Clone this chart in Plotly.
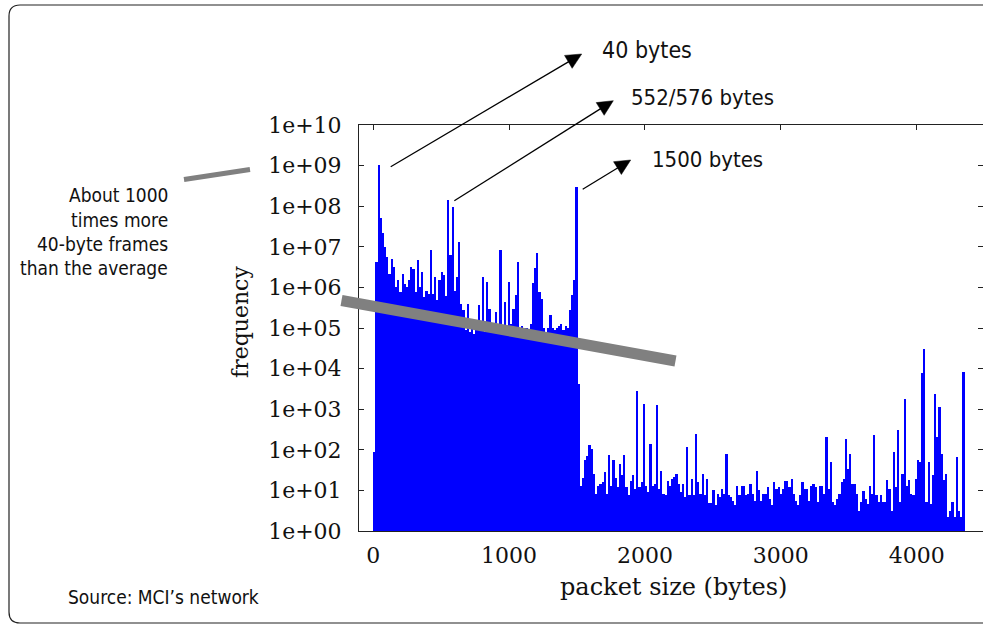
import plotly.graph_objects as go

# ---------------- data ----------------
BIN_WIDTH = 16  # bytes per histogram bin
# log10 of the frame count in each 16-byte bin, starting at 0 bytes
log10_frequency = [
    1.94, 6.63, 9.01, 7.70, 7.34, 7.00, 6.75, 6.34, 6.71, 6.50,
    6.00, 6.18, 5.89, 6.34, 6.09, 6.01, 6.18, 6.50, 6.46, 5.89,
    6.67, 6.01, 6.38, 5.77, 5.92, 5.84, 6.92, 5.84, 6.26, 5.68,
    6.18, 6.38, 6.30, 5.80, 8.15, 6.80, 7.99, 5.90, 6.26, 7.12,
    5.60, 5.44, 4.94, 5.60, 4.90, 5.00, 4.85, 5.05, 5.56, 4.95,
    6.26, 4.90, 6.14, 5.48, 4.90, 5.00, 5.40, 4.85, 6.92, 4.90,
    5.64, 5.00, 6.14, 5.10, 5.48, 5.81, 6.63, 4.95, 5.05, 4.90,
    5.00, 4.95, 5.10, 6.10, 6.47, 6.84, 5.89, 5.72, 5.00, 4.90,
    5.00, 5.31, 5.00, 4.95, 5.00, 5.05, 5.10, 4.96, 5.05, 5.00,
    5.44, 5.81, 6.18, 8.48, 3.63,
    1.12, 1.30, 1.74, 1.85, 2.11, 2.02, 1.41, 0.92, 1.12, 1.16,
    1.20, 1.45, 0.92, 1.86, 1.12, 1.74, 1.30, 1.08, 1.65, 1.37,
    1.86, 1.08, 0.88, 1.24, 1.37, 1.04, 3.46, 1.08, 1.20, 3.14,
    1.12, 0.96, 2.15, 1.12, 1.16, 3.10, 1.04, 1.49, 0.92, 0.88,
    1.24, 1.12, 1.29, 1.33, 1.41, 1.16, 0.96, 1.16, 0.84, 2.07,
    0.88, 1.29, 0.88, 2.40, 1.20, 0.92, 1.41, 0.88, 1.29, 0.70,
    0.70, 1.00, 0.63, 0.92, 0.84, 1.04, 0.92, 1.90, 0.88, 0.84,
    0.75, 0.63, 1.12, 0.88, 1.12, 1.12, 0.88, 0.92, 1.16, 0.92,
    0.75, 1.49, 1.00, 0.75, 0.92, 0.92, 1.08, 0.79, 0.63, 1.20,
    1.04, 1.08, 0.92, 1.04, 1.24, 1.24, 1.08, 1.29, 0.92, 0.75,
    0.63, 0.88, 1.20, 1.04, 1.04, 0.75, 1.12, 1.16, 1.08, 0.71,
    1.12, 1.12, 0.92, 2.31, 1.04, 1.70, 0.71, 0.63, 0.79, 0.92,
    1.20, 1.29, 2.27, 1.53, 1.90, 1.16, 1.16, 0.92, 0.50, 0.71,
    0.99, 0.79, 0.67, 1.12, 0.92, 2.36, 0.88, 0.71, 0.88, 0.71,
    0.71, 1.25, 1.04, 0.50, 1.94, 1.08, 2.48, 0.71, 1.41, 3.26,
    1.12, 1.25, 0.92, 0.88, 1.29, 1.74, 1.70, 3.88, 4.49, 0.71,
    1.70, 0.67, 1.37, 3.38, 2.31, 3.05, 1.90, 1.25, 1.41, 0.34,
    0.50, 0.71, 0.34, 1.82, 0.50, 0.34, 3.92,
]
bin_start = [i * BIN_WIDTH for i in range(len(log10_frequency))]
frequency = [10 ** v for v in log10_frequency]

x_ticks = [0, 1000, 2000, 3000, 4000]
y_exponents = list(range(0, 11))
y_ticks = [10 ** e for e in y_exponents]
y_ticktext = ["1e+%02d" % e for e in y_exponents]

# ---------------- geometry (screen pixels) ----------------
W, H = 983, 625
L, R, T, B = 359, 0, 125, 94
PW, PH = W - L - R, H - T - B


def px(x):
    return (x - L) / PW


def py(y):
    return (H - B - y) / PH


SERIF = "DejaVu Serif, Liberation Serif, serif"
COND = "DejaVu Sans Condensed, Liberation Sans Narrow, sans-serif"

fig = go.Figure()
fig.add_trace(go.Bar(
    x=[s + BIN_WIDTH / 2 for s in bin_start],
    y=frequency,
    width=BIN_WIDTH,
    marker=dict(color="#0000ff", line=dict(width=0)),
    showlegend=False,
    hoverinfo="x+y",
))
# dummy trace so the right-hand tick axis is drawn
fig.add_trace(go.Scatter(x=[None], y=[None], yaxis="y2", showlegend=False))

shapes = []
# rounded outer frame, open on the right (that side is outside the picture)
r = 11
x0, y0, x1, y1 = 9, 5, 1000, 623
path = (f"M {px(x1)},{py(y0)} L {px(x0 + r)},{py(y0)} "
        f"Q {px(x0)},{py(y0)} {px(x0)},{py(y0 + r)} "
        f"L {px(x0)},{py(y1 - r)} Q {px(x0)},{py(y1)} {px(x0 + r)},{py(y1)} "
        f"L {px(x1)},{py(y1)}")
shapes.append(dict(type="path", path=path, xref="paper", yref="paper",
                   line=dict(color="#222", width=1.2), fillcolor="rgba(0,0,0,0)"))

# grey "average" bars
shapes.append(dict(type="line", xref="paper", yref="paper",
                   x0=px(341.5), y0=py(300.5), x1=px(675.5), y1=py(361),
                   line=dict(color="#808080", width=11)))
shapes.append(dict(type="line", xref="paper", yref="paper",
                   x0=px(184), y0=py(179.5), x1=px(250), y1=py(169.5),
                   line=dict(color="#808080", width=5)))

# arrows: (tail, tip)
arrows = [((390.7, 166.7), (581.7, 54.0)),
          ((454.3, 200.7), (613.3, 100.7)),
          ((582.7, 189.3), (630.7, 160.0))]
for (tx, ty), (hx, hy) in arrows:
    dx, dy = hx - tx, hy - ty
    n = (dx * dx + dy * dy) ** 0.5
    ux, uy = dx / n, dy / n
    hl, hw = 15.5, 7.5
    bx, by = hx - ux * hl, hy - uy * hl
    shapes.append(dict(type="line", xref="paper", yref="paper",
                       x0=px(tx), y0=py(ty), x1=px(bx + ux * 2), y1=py(by + uy * 2),
                       line=dict(color="black", width=1.3)))
    c1 = (bx - uy * hw, by + ux * hw)
    c2 = (bx + uy * hw, by - ux * hw)
    tri = (f"M {px(hx)},{py(hy)} L {px(c1[0])},{py(c1[1])} "
           f"L {px(c2[0])},{py(c2[1])} Z")
    shapes.append(dict(type="path", path=tri, xref="paper", yref="paper",
                       line=dict(color="black", width=0.5), fillcolor="black"))

annotations = []


def add_text(text, x, y, xanchor, size, family, angle=0):
    annotations.append(dict(text=text, x=px(x), y=py(y), xref="paper", yref="paper",
                            xanchor=xanchor, yanchor="middle", showarrow=False,
                            textangle=angle,
                            font=dict(family=family, size=size, color="#111")))


add_text("40 bytes", 600, 50, "left", 23, COND)
add_text("552/576 bytes", 629, 98, "left", 22, COND)
add_text("1500 bytes", 650, 160, "left", 22, COND)
for txt, yy in [("About 1000", 195), ("times more", 219.5),
                ("40-byte frames", 243.5), ("than the average", 267.5)]:
    add_text(txt, 170, yy, "right", 19, COND)
add_text("Source: MCI\u2019s network", 66, 597, "left", 19, COND)
add_text("frequency", 240, 322, "center", 22, SERIF, angle=-90)
add_text("packet size (bytes)", 673, 587, "center", 24, SERIF)

axis_common = dict(showgrid=False, zeroline=False, ticks="inside", ticklen=5,
                   tickcolor="#222", linecolor="#222", linewidth=1)

fig.update_layout(
    width=W, height=H,
    margin=dict(l=L, r=R, t=T, b=B, pad=0),
    paper_bgcolor="white", plot_bgcolor="white",
    bargap=0,
    shapes=shapes,
    annotations=annotations,
    xaxis=dict(range=[-105, 4488], tickvals=x_ticks,
               ticktext=[str(v) for v in x_ticks],
               showline=True, mirror="ticks", layer="below traces",
               tickfont=dict(family=SERIF, size=22, color="#111"),
               ticklabelstandoff=5, **axis_common),
    yaxis=dict(type="log", range=[0, 10], tickvals=y_ticks, ticktext=y_ticktext,
               showline=True, layer="below traces",
               tickfont=dict(family=SERIF, size=22, color="#111"),
               ticklabelstandoff=12, **axis_common),
    yaxis2=dict(type="log", range=[0, 10], tickvals=y_ticks, overlaying="y",
                side="right", anchor="x", showticklabels=False, showline=False,
                showgrid=False, zeroline=False, ticks="inside", ticklen=5,
                tickcolor="#222"),
)

page_css = ("document.documentElement.style.margin='0';"
            "document.documentElement.style.overflow='hidden';"
            "document.body.style.margin='0';"
            "document.body.style.overflow='hidden';")
fig.write_html("out.html", post_script=page_css, config={"displayModeBar": False})
